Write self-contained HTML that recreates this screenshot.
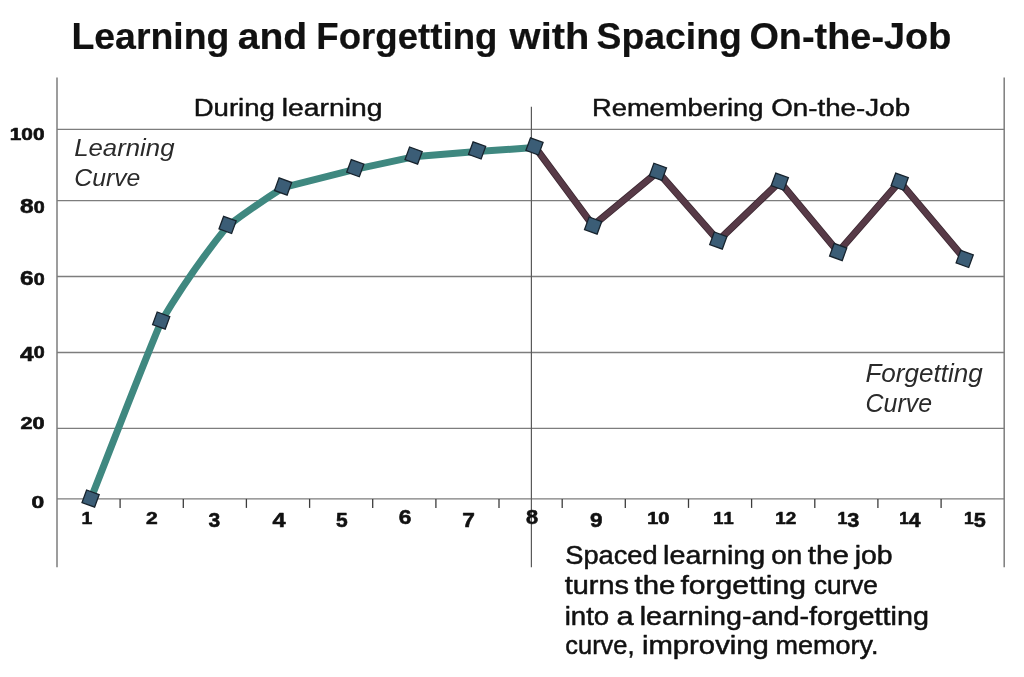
<!DOCTYPE html>
<html lang="en"><head><meta charset="utf-8"><title>Learning and Forgetting with Spacing On-the-Job</title>
<style>
html,body{margin:0;padding:0;background:#fff;}
body{width:1024px;height:677px;overflow:hidden;}
svg{display:block;font-family:"Liberation Sans",sans-serif;}
text{white-space:pre;}
</style></head><body>
<svg width="1024" height="677" viewBox="0 0 1024 677">
<rect width="1024" height="677" fill="#ffffff"/>
<g stroke="#7d7d7d" stroke-width="1.5" fill="none">
<line x1="57.0" y1="129.4" x2="1004.2" y2="129.4" stroke-width="1.3"/>
<line x1="57.0" y1="200.6" x2="1004.2" y2="200.6" stroke-width="1.3"/>
<line x1="57.0" y1="276.5" x2="1004.2" y2="276.5" stroke-width="1.3"/>
<line x1="57.0" y1="352.5" x2="1004.2" y2="352.5" stroke-width="1.3"/>
<line x1="57.0" y1="428.3" x2="1004.2" y2="428.3" stroke-width="1.3"/>
<line x1="57.0" y1="498.9" x2="1004.2" y2="498.9" stroke-width="1.3"/>
<line x1="57.0" y1="77.5" x2="57.0" y2="567.3"/>
<line x1="1004.2" y1="77.5" x2="1004.2" y2="567.3"/>
</g>
<g stroke="#3c3c3c" stroke-width="1.3">
<line x1="120.1" y1="498.9" x2="120.1" y2="507.9"/>
<line x1="183.3" y1="498.9" x2="183.3" y2="507.9"/>
<line x1="246.4" y1="498.9" x2="246.4" y2="507.9"/>
<line x1="309.6" y1="498.9" x2="309.6" y2="507.9"/>
<line x1="372.7" y1="498.9" x2="372.7" y2="507.9"/>
<line x1="435.9" y1="498.9" x2="435.9" y2="507.9"/>
<line x1="499.0" y1="498.9" x2="499.0" y2="507.9"/>
<line x1="562.2" y1="498.9" x2="562.2" y2="507.9"/>
<line x1="625.3" y1="498.9" x2="625.3" y2="507.9"/>
<line x1="688.5" y1="498.9" x2="688.5" y2="507.9"/>
<line x1="751.6" y1="498.9" x2="751.6" y2="507.9"/>
<line x1="814.8" y1="498.9" x2="814.8" y2="507.9"/>
<line x1="877.9" y1="498.9" x2="877.9" y2="507.9"/>
<line x1="941.1" y1="498.9" x2="941.1" y2="507.9"/>
</g>
<line x1="531.4" y1="106.8" x2="531.4" y2="567.3" stroke="#5a5a5a" stroke-width="1.2"/>
<path d="M90.6 498.6 C114.1 439.3 136.6 379.5 161.2 320.6 C181.0 287.1 203.2 255.2 227.6 224.9 C245.6 211.4 264.1 198.6 283.1 186.5 L355.3 168.2 L413.6 155.6 L477.1 150.4 L534.5 146.4" fill="none" stroke="#3f8880" stroke-width="7.0" stroke-linejoin="round" transform="translate(-0.2 1.2)"/>
<polyline points="534.5,146.4 593.1,225.6 657.9,171.8 718.3,240.6 779.8,181.7 838.2,252.0 899.7,181.7 964.7,258.9" fill="none" stroke="#3d2832" stroke-width="7.2" stroke-linejoin="round"/>
<polyline points="534.5,146.4 593.1,225.6 657.9,171.8 718.3,240.6 779.8,181.7 838.2,252.0 899.7,181.7 964.7,258.9" fill="none" stroke="#573a47" stroke-width="5.6" stroke-linejoin="round"/>
<g fill="#3b5d76" stroke="#17232d" stroke-width="1.3">
<rect x="-6.7" y="-6.7" width="13.4" height="13.4" transform="translate(90.6 498.6) rotate(20)"/>
<rect x="-6.7" y="-6.7" width="13.4" height="13.4" transform="translate(161.2 320.6) rotate(20)"/>
<rect x="-6.7" y="-6.7" width="13.4" height="13.4" transform="translate(227.6 224.9) rotate(20)"/>
<rect x="-6.7" y="-6.7" width="13.4" height="13.4" transform="translate(283.1 186.5) rotate(20)"/>
<rect x="-6.7" y="-6.7" width="13.4" height="13.4" transform="translate(355.3 168.2) rotate(20)"/>
<rect x="-6.7" y="-6.7" width="13.4" height="13.4" transform="translate(413.6 155.6) rotate(20)"/>
<rect x="-6.7" y="-6.7" width="13.4" height="13.4" transform="translate(477.1 150.4) rotate(20)"/>
<rect x="-6.7" y="-6.7" width="13.4" height="13.4" transform="translate(534.5 146.4) rotate(20)"/>
<rect x="-6.7" y="-6.7" width="13.4" height="13.4" transform="translate(593.1 225.6) rotate(20)"/>
<rect x="-6.7" y="-6.7" width="13.4" height="13.4" transform="translate(657.9 171.8) rotate(20)"/>
<rect x="-6.7" y="-6.7" width="13.4" height="13.4" transform="translate(718.3 240.6) rotate(20)"/>
<rect x="-6.7" y="-6.7" width="13.4" height="13.4" transform="translate(779.8 181.7) rotate(20)"/>
<rect x="-6.7" y="-6.7" width="13.4" height="13.4" transform="translate(838.2 252.0) rotate(20)"/>
<rect x="-6.7" y="-6.7" width="13.4" height="13.4" transform="translate(899.7 181.7) rotate(20)"/>
<rect x="-6.7" y="-6.7" width="13.4" height="13.4" transform="translate(964.7 258.9) rotate(20)"/>
</g>
<text y="48.5" font-size="37.7" font-weight="bold" font-style="normal" fill="#111" stroke="#111" stroke-width="0.20" stroke-linejoin="round"><tspan x="71.4" textLength="158.1" lengthAdjust="spacingAndGlyphs">Learning</tspan> <tspan x="237.7" textLength="69.6" lengthAdjust="spacingAndGlyphs">and</tspan> <tspan x="316.3" textLength="181.1" lengthAdjust="spacingAndGlyphs">Forgetting</tspan> <tspan x="509.6" textLength="79.8" lengthAdjust="spacingAndGlyphs">with</tspan> <tspan x="596.6" textLength="145.2" lengthAdjust="spacingAndGlyphs">Spacing</tspan> <tspan x="749.4" textLength="202.0" lengthAdjust="spacingAndGlyphs">On-the-Job</tspan></text>
<text y="115.7" font-size="23.3" font-weight="normal" font-style="normal" fill="#111" stroke="#111" stroke-width="0.45" stroke-linejoin="round"><tspan x="193.7" textLength="81.2" lengthAdjust="spacingAndGlyphs">During</tspan> <tspan x="281.8" textLength="100.6" lengthAdjust="spacingAndGlyphs">learning</tspan></text>
<text y="116.0" font-size="23.3" font-weight="normal" font-style="normal" fill="#111" stroke="#111" stroke-width="0.45" stroke-linejoin="round"><tspan x="592.0" textLength="171.4" lengthAdjust="spacingAndGlyphs">Remembering</tspan> <tspan x="771.2" textLength="138.9" lengthAdjust="spacingAndGlyphs">On-the-Job</tspan></text>
<text y="155.9" font-size="24.2" font-weight="normal" font-style="italic" fill="#2a2a2a"><tspan x="74.2" textLength="100.3" lengthAdjust="spacingAndGlyphs">Learning</tspan></text>
<text y="185.6" font-size="24.2" font-weight="normal" font-style="italic" fill="#2a2a2a"><tspan x="74.3" textLength="66.1" lengthAdjust="spacingAndGlyphs">Curve</tspan></text>
<text y="382.2" font-size="25.0" font-weight="normal" font-style="italic" fill="#2a2a2a"><tspan x="865.4" textLength="117.4" lengthAdjust="spacingAndGlyphs">Forgetting</tspan></text>
<text y="412.4" font-size="25.0" font-weight="normal" font-style="italic" fill="#2a2a2a"><tspan x="865.6" textLength="66.4" lengthAdjust="spacingAndGlyphs">Curve</tspan></text>
<text y="564.0" font-size="26.0" font-weight="normal" font-style="normal" fill="#111" stroke="#111" stroke-width="0.50" stroke-linejoin="round"><tspan x="565.3" textLength="92.3" lengthAdjust="spacingAndGlyphs">Spaced</tspan> <tspan x="663.1" textLength="102.1" lengthAdjust="spacingAndGlyphs">learning</tspan> <tspan x="771.3" textLength="31.0" lengthAdjust="spacingAndGlyphs">on</tspan> <tspan x="807.8" textLength="41.1" lengthAdjust="spacingAndGlyphs">the</tspan> <tspan x="854.7" textLength="37.9" lengthAdjust="spacingAndGlyphs">job</tspan></text>
<text y="594.0" font-size="26.0" font-weight="normal" font-style="normal" fill="#111" stroke="#111" stroke-width="0.50" stroke-linejoin="round"><tspan x="564.7" textLength="64.2" lengthAdjust="spacingAndGlyphs">turns</tspan> <tspan x="634.5" textLength="40.8" lengthAdjust="spacingAndGlyphs">the</tspan> <tspan x="680.4" textLength="125.7" lengthAdjust="spacingAndGlyphs">forgetting</tspan> <tspan x="813.9" textLength="64.0" lengthAdjust="spacingAndGlyphs">curve</tspan></text>
<text y="624.6" font-size="26.0" font-weight="normal" font-style="normal" fill="#111" stroke="#111" stroke-width="0.50" stroke-linejoin="round"><tspan x="564.7" textLength="44.5" lengthAdjust="spacingAndGlyphs">into</tspan> <tspan x="616.5" textLength="17.1" lengthAdjust="spacingAndGlyphs">a</tspan> <tspan x="639.7" textLength="289.2" lengthAdjust="spacingAndGlyphs">learning-and-forgetting</tspan></text>
<text y="653.8" font-size="26.0" font-weight="normal" font-style="normal" fill="#111" stroke="#111" stroke-width="0.50" stroke-linejoin="round"><tspan x="565.3" textLength="69.2" lengthAdjust="spacingAndGlyphs">curve,</tspan> <tspan x="641.9" textLength="127.0" lengthAdjust="spacingAndGlyphs">improving</tspan> <tspan x="775.5" textLength="103.1" lengthAdjust="spacingAndGlyphs">memory.</tspan></text>
<text transform="translate(9.67 139.8) scale(1.320 1)" font-weight="bold" fill="#111" stroke="#111" stroke-width="0.55" stroke-linejoin="round"><tspan font-size="15.8" dy="0.0">1</tspan><tspan font-size="15.8" dy="0.0">0</tspan><tspan font-size="15.8" dy="0.0">0</tspan></text>
<text transform="translate(20.05 212.8) scale(1.249 1)" font-weight="bold" fill="#111" stroke="#111" stroke-width="0.55" stroke-linejoin="round"><tspan font-size="19.6" dy="0.0">8</tspan><tspan font-size="15.8" dy="0.0">0</tspan></text>
<text transform="translate(20.05 284.6) scale(1.249 1)" font-weight="bold" fill="#111" stroke="#111" stroke-width="0.55" stroke-linejoin="round"><tspan font-size="19.6" dy="0.0">6</tspan><tspan font-size="15.8" dy="0.0">0</tspan></text>
<text transform="translate(20.05 357.5) scale(1.249 1)" font-weight="bold" fill="#111" stroke="#111" stroke-width="0.55" stroke-linejoin="round"><tspan font-size="19.6" dy="3.2">4</tspan><tspan font-size="15.8" dy="-3.2">0</tspan></text>
<text transform="translate(20.54 429.2) scale(1.374 1)" font-weight="bold" fill="#111" stroke="#111" stroke-width="0.55" stroke-linejoin="round"><tspan font-size="15.8" dy="0.0">2</tspan><tspan font-size="15.8" dy="0.0">0</tspan></text>
<text transform="translate(31.40 508.0) scale(1.447 1)" font-weight="bold" fill="#111" stroke="#111" stroke-width="0.55" stroke-linejoin="round"><tspan font-size="15.8" dy="0.0">0</tspan></text>
<text transform="translate(81.62 523.6) scale(1.226 1)" font-weight="bold" fill="#111" stroke="#111" stroke-width="0.55" stroke-linejoin="round"><tspan font-size="15.8" dy="0.0">1</tspan></text>
<text transform="translate(146.07 523.6) scale(1.330 1)" font-weight="bold" fill="#111" stroke="#111" stroke-width="0.55" stroke-linejoin="round"><tspan font-size="15.8" dy="0.0">2</tspan></text>
<text transform="translate(208.57 523.6) scale(1.073 1)" font-weight="bold" fill="#111" stroke="#111" stroke-width="0.55" stroke-linejoin="round"><tspan font-size="19.6" dy="3.2">3</tspan></text>
<text transform="translate(272.48 523.6) scale(1.200 1)" font-weight="bold" fill="#111" stroke="#111" stroke-width="0.55" stroke-linejoin="round"><tspan font-size="19.6" dy="3.2">4</tspan></text>
<text transform="translate(336.07 523.6) scale(1.073 1)" font-weight="bold" fill="#111" stroke="#111" stroke-width="0.55" stroke-linejoin="round"><tspan font-size="19.6" dy="3.2">5</tspan></text>
<text transform="translate(398.71 523.6) scale(1.158 1)" font-weight="bold" fill="#111" stroke="#111" stroke-width="0.55" stroke-linejoin="round"><tspan font-size="19.6" dy="0.0">6</tspan></text>
<text transform="translate(462.21 523.6) scale(1.158 1)" font-weight="bold" fill="#111" stroke="#111" stroke-width="0.55" stroke-linejoin="round"><tspan font-size="19.6" dy="3.2">7</tspan></text>
<text transform="translate(526.04 523.6) scale(1.115 1)" font-weight="bold" fill="#111" stroke="#111" stroke-width="0.55" stroke-linejoin="round"><tspan font-size="19.6" dy="0.0">8</tspan></text>
<text transform="translate(590.02 523.6) scale(1.147 1)" font-weight="bold" fill="#111" stroke="#111" stroke-width="0.55" stroke-linejoin="round"><tspan font-size="19.6" dy="3.2">9</tspan></text>
<text transform="translate(647.20 523.6) scale(1.265 1)" font-weight="bold" fill="#111" stroke="#111" stroke-width="0.55" stroke-linejoin="round"><tspan font-size="15.8" dy="0.0">1</tspan><tspan font-size="15.8" dy="0.0">0</tspan></text>
<text transform="translate(713.26 523.6) scale(1.161 1)" font-weight="bold" fill="#111" stroke="#111" stroke-width="0.55" stroke-linejoin="round"><tspan font-size="15.8" dy="0.0">1</tspan><tspan font-size="15.8" dy="0.0">1</tspan></text>
<text transform="translate(775.14 523.6) scale(1.198 1)" font-weight="bold" fill="#111" stroke="#111" stroke-width="0.55" stroke-linejoin="round"><tspan font-size="15.8" dy="0.0">1</tspan><tspan font-size="15.8" dy="0.0">2</tspan></text>
<text transform="translate(837.49 523.6) scale(1.108 1)" font-weight="bold" fill="#111" stroke="#111" stroke-width="0.55" stroke-linejoin="round"><tspan font-size="15.8" dy="0.0">1</tspan><tspan font-size="19.6" dy="3.2">3</tspan></text>
<text transform="translate(899.31 523.6) scale(1.076 1)" font-weight="bold" fill="#111" stroke="#111" stroke-width="0.55" stroke-linejoin="round"><tspan font-size="15.8" dy="0.0">1</tspan><tspan font-size="19.6" dy="3.2">4</tspan></text>
<text transform="translate(963.99 523.6) scale(1.103 1)" font-weight="bold" fill="#111" stroke="#111" stroke-width="0.55" stroke-linejoin="round"><tspan font-size="15.8" dy="0.0">1</tspan><tspan font-size="19.6" dy="3.2">5</tspan></text>
</svg>
</body></html>
